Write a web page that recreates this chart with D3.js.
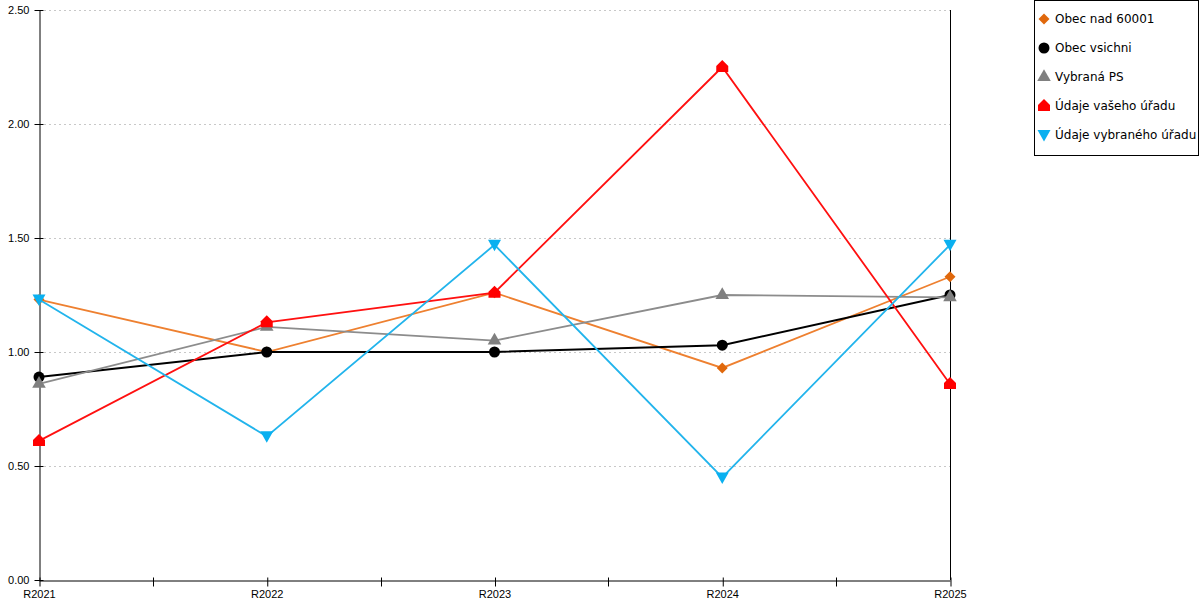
<!DOCTYPE html>
<html>
<head>
<meta charset="utf-8">
<script src="https://cdn.jsdelivr.net/npm/d3@7"></script>
<style>
	body { margin: 0; background: #fff; }
	svg { font-family: "DejaVu Sans", Verdana, sans-serif; }
</style>
</head>
<body>
<svg id="chart" width="1200" height="600"></svg>
<script>

// values
const categories = ["R2021", "R2022", "R2023", "R2024", "R2025"];
const yTicks = [0, 0.5, 1.0, 1.5, 2.0, 2.5];

const seriesNames = ["Obec nad 60001", "Obec vsichni", "Vybraná PS", "Údaje vašeho úřadu", "Údaje vybraného úřadu"];
const obecNad = [1.23, 1.00, 1.26, 0.93, 1.33];
const obecVsichni = [0.89, 1.00, 1.00, 1.03, 1.25];
const vybranaPS = [0.86, 1.11, 1.05, 1.25, 1.24];
const vasUrad = [0.61, 1.13, 1.26, 2.25, 0.86];
const vybranyUrad = [1.23, 0.63, 1.47, 0.45, 1.47];

const seriesValues = [obecNad, obecVsichni, vybranaPS, vasUrad, vybranyUrad];
const lineColors = ["#ee8030", "#000000", "#8c8c8c", "#ff1010", "#22b4ec"];
const markColors = ["#e0680c", "#000000", "#808080", "#ff0000", "#0ab0f0"];
const markTypes = ["diamond", "circle", "triangle", "house", "triangleDown"];

const svg = d3.select("#chart");
const margin = {left: 39, right: 250, top: 10, bottom: 20};
const W = 1200, H = 600;

const x = d3.scalePoint()
	.domain(categories)
	.range([margin.left, W - margin.right])
	.padding(0);

const y = d3.scaleLinear()
	.domain([0, 2.5])
	.range([H - margin.bottom, margin.top]);

// grid
svg.append("g")
	.selectAll("line")
	.data(yTicks.filter(d => d > 0))
	.enter().append("line")
	.attr("x1", margin.left + 5)
	.attr("x2", W - margin.right)
	.attr("y1", d => y(d) + 0.5)
	.attr("y2", d => y(d) + 0.5)
	.attr("stroke", "#c8c8c8")
	.attr("stroke-dasharray", "2,3");

// y axis
const yAxis = svg.append("g")
	.attr("transform", `translate(${margin.left + 0.5},0)`)
	.call(d3.axisLeft(y).tickValues(yTicks).tickFormat(d3.format(".2f")).tickSize(5).tickSizeOuter(0));
yAxis.selectAll(".tick line").attr("x2", -5).attr("x1", 4);
yAxis.selectAll("text").attr("x", -10).style("font-size", "11px").attr("fill", "#000");
yAxis.select(".domain").attr("stroke", "#000");

// right border line
svg.append("line")
	.attr("x1", x(categories[categories.length - 1]) + 0.5)
	.attr("x2", x(categories[categories.length - 1]) + 0.5)
	.attr("y1", margin.top)
	.attr("y2", H - margin.bottom)
	.attr("stroke", "#000");

// x axis with minor ticks between categories
const xAxis = svg.append("g")
	.attr("transform", `translate(0,${H - margin.bottom + 0.5})`)
	.call(d3.axisBottom(x).tickSize(6).tickSizeOuter(0));
xAxis.selectAll(".tick line").attr("y1", -3).attr("y2", 6).attr("transform", "translate(0.5,0)");
xAxis.selectAll("text").attr("y", 10).style("font-size", "11px").attr("fill", "#000");
xAxis.select(".domain").attr("stroke", "#000");

const mids = d3.pairs(categories).map(p => (x(p[0]) + x(p[1])) / 2);
xAxis.selectAll(".minor")
	.data(mids)
	.enter().append("line")
	.attr("class", "minor")
	.attr("x1", d => Math.round(d) + 0.5)
	.attr("x2", d => Math.round(d) + 0.5)
	.attr("y1", -3)
	.attr("y2", 6)
	.attr("stroke", "#000");

function markPath(type) {
	if (type === "diamond") return "M0,-5.5L5.5,0L0,5.5L-5.5,0Z";
	if (type === "circle") return d3.symbol(d3.symbolCircle, 95)();
	if (type === "triangle") return d3.symbol(d3.symbolTriangle, 80)();
	if (type === "triangleDown") return "M-6.5,-5L6.5,-5L0,6.5Z";
	// house shaped marker
	return "M-6,-1L0,-7L6,-1L6,5L-6,5Z";
}

const line = d3.line()
	.x((d, i) => x(categories[i]))
	.y(d => y(d));

seriesValues.forEach((vals, s) => {
	const g = svg.append("g");
	g.append("path")
		.datum(vals)
		.attr("d", line)
		.attr("fill", "none")
		.attr("stroke", lineColors[s])
		.attr("stroke-width", s === 1 ? 2 : 1.8);
	g.selectAll("path.mark")
		.data(vals)
		.enter().append("path")
		.attr("class", "mark")
		.attr("d", markPath(markTypes[s]))
		.attr("transform", (d, i) => `translate(${x(categories[i])},${y(d)})`)
		.attr("fill", markColors[s]);
});

// legend
const legend = svg.append("g");
legend.append("rect")
	.attr("x", 1034.5)
	.attr("y", 0.5)
	.attr("width", 164)
	.attr("height", 155)
	.attr("fill", "#fff")
	.attr("stroke", "#000");

const items = legend.selectAll("g.item")
	.data(seriesNames)
	.enter().append("g")
	.attr("class", "item")
	.attr("transform", (d, i) => `translate(1044,${19 + i * 29})`);

items.append("path")
	.attr("d", (d, i) => markPath(markTypes[i]))
	.attr("fill", (d, i) => markColors[i]);

items.append("text")
	.attr("x", 11)
	.attr("dy", "0.35em")
	.style("font-size", "12px")
	.text(d => d);

</script>
</body>
</html>
